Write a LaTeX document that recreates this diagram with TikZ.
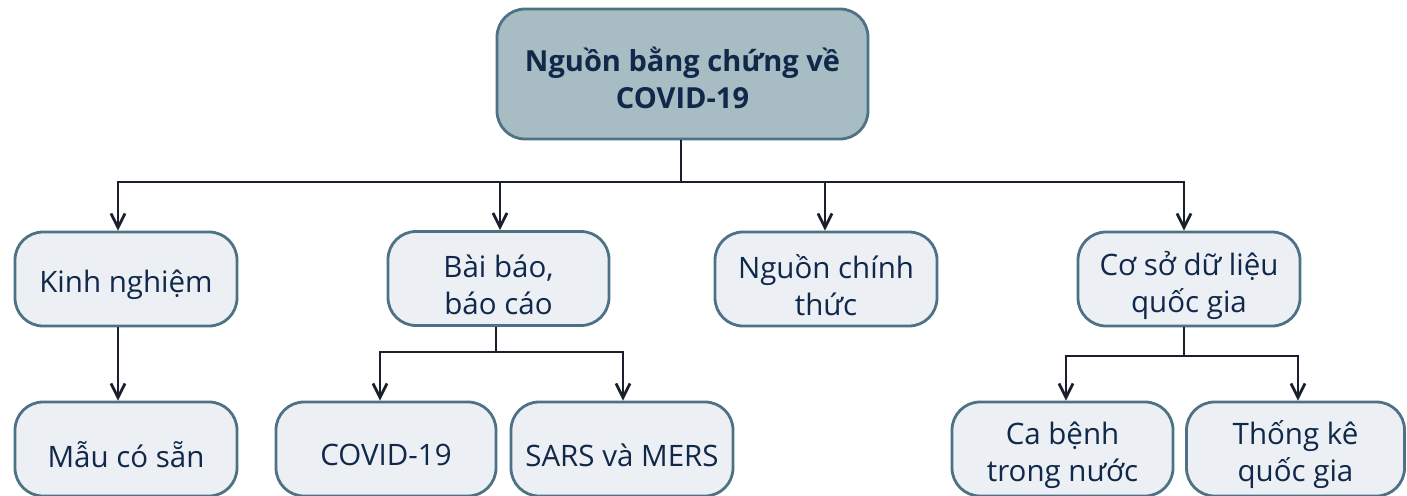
\documentclass[tikz,border=0pt]{standalone}
\usepackage{fontspec}
\setmainfont{Open Sans}
\usetikzlibrary{arrows.meta}
\definecolor{boxfill}{HTML}{ECEFF3}
\definecolor{rootfill}{HTML}{A7BDC3}
\definecolor{boxline}{HTML}{4D7285}
\definecolor{ink}{HTML}{10284A}
\definecolor{wirecol}{HTML}{1A1F2E}
\tikzset{
  box/.style={draw=boxline, line width=2.8pt, fill=boxfill, rounded corners=28pt,
    minimum height=94pt, inner sep=0pt},
  txt/.style={text=ink, align=center, inner sep=0pt, yshift=-6pt,
    font=\fontsize{29.5}{37}\selectfont},
  rootbox/.style={box, fill=rootfill, minimum width=371pt, minimum height=130pt},
  roottxt/.style={txt, yshift=2pt, font=\fontsize{29}{36.5}\selectfont\bfseries},
  wire/.style={draw=wirecol, line width=2.8pt},
  arr/.style={wire, -{Straight Barb[length=14pt,width=14pt,line width=2.8pt]}},
}
\begin{document}
\begin{tikzpicture}[x=1pt,y=-1pt]
\useasboundingbox (0,0) rectangle (1407,495);

% root
\node[rootbox, label={[roottxt]center:{Nguồn bằng chứng về\\COVID-19}}] (top) at (682.5,74) {};

% first level
\node[box, minimum width=222pt, label={[txt]center:{Kinh nghiệm}}]        (kn)  at (126,279)   {};
\node[box, minimum width=221pt, label={[txt]center:{Bài báo,\\báo cáo}}]  (bb)  at (498.5,278.5) {};
\node[box, minimum width=222pt, label={[txt]center:{Nguồn chính\\thức}}]  (ncs) at (826,279)   {};
\node[box, minimum width=222pt, label={[txt]center:{Cơ sở dữ liệu\\quốc gia}}] (csd) at (1189,279) {};

% second level
\node[box, minimum width=222pt, label={[txt]center:{Mẫu có sẵn}}]   (mau)  at (126,449)    {};
\node[box, minimum width=220pt, label={[txt]center:{COVID-19}}]     (cov)  at (386,449)    {};
\node[box, minimum width=222pt, label={[txt]center:{SARS và MERS}}] (sars) at (622,449)    {};
\node[box, minimum width=221pt, label={[txt]center:{Ca bệnh\\trong nước}}] (cab) at (1062.5,449) {};
\node[box, minimum width=218pt, label={[txt]center:{Thống kê\\quốc gia}}]   (tk)  at (1295.5,449) {};

% main bus
\coordinate (bus) at (681,182);
\draw[wire] (top.south -| bus) -- (bus);
\draw[arr] (bus) -| ([xshift=-8pt]kn.north);
\draw[arr] (bus) -| ([xshift=1.5pt]bb.north);
\draw[arr] (bus) -| ([xshift=-1pt]ncs.north);
\draw[arr] (bus) -| ([xshift=-5pt]csd.north);

% experience branch
\draw[arr] ([xshift=-8pt]kn.south) -- ([xshift=-8pt]mau.north);

% publications branch
\coordinate (busb) at (496,352);
\draw[wire] (bb.south -| busb) -- (busb);
\draw[arr] (busb) -| ([xshift=-6pt]cov.north);
\draw[arr] (busb) -| ([xshift=1pt]sars.north);

% database branch
\coordinate (busc) at (1184,356);
\draw[wire] (csd.south -| busc) -- (busc);
\draw[arr] (busc) -| ([xshift=3.5pt]cab.north);
\draw[arr] (busc) -| ([xshift=2.5pt]tk.north);
\end{tikzpicture}
\end{document}
